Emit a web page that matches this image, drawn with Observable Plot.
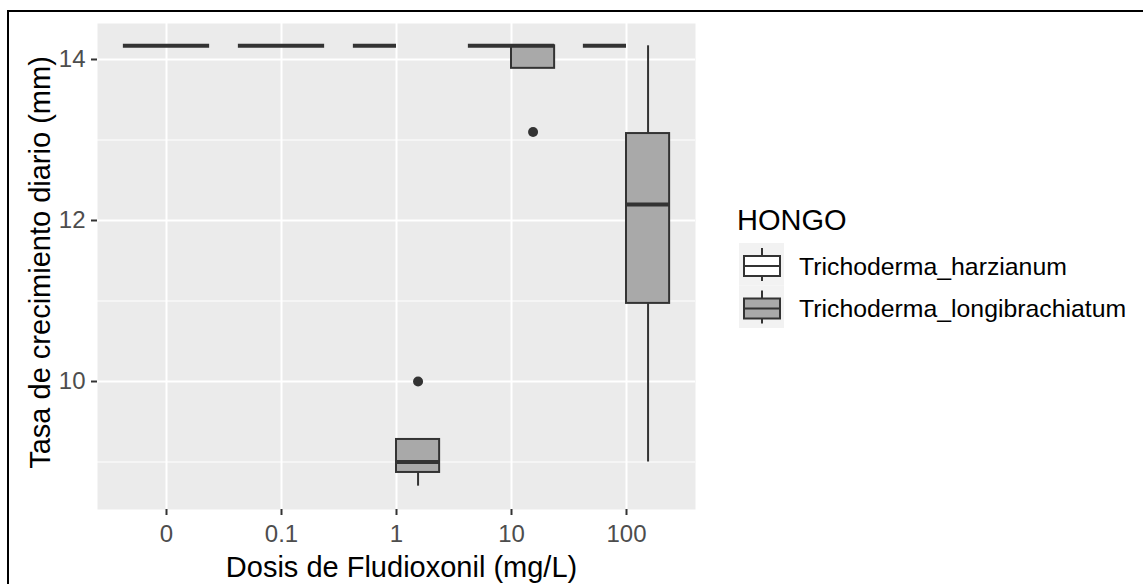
<!DOCTYPE html>
<html><head><meta charset="utf-8">
<script src="https://cdn.jsdelivr.net/npm/d3@7"></script>
<script src="https://cdn.jsdelivr.net/npm/@observablehq/plot@0.6"></script>
<style>
body{margin:0;background:#fff;}
#wrap{position:relative;width:1143px;height:584px;overflow:hidden;font-family:"Liberation Sans",Arial,sans-serif;}
#border{position:absolute;left:7px;top:10px;width:1300px;height:700px;border-top:2px solid #000;border-left:2px solid #000;pointer-events:none;z-index:2;}
#legend{position:absolute;left:0;top:0;}
#wrap svg g[aria-label="x-axis tick label"], #wrap svg g[aria-label="y-axis tick label"]{fill:#4D4D4D;font-size:24px;}
</style></head><body><div id="wrap"><div id="border"></div></div>
<script>
// ---- data ----
const doses = ["0", "0.1", "1", "10", "100"];
const fungi = ["Trichoderma_harzianum", "Trichoderma_longibrachiatum"];
const fungusFill = ["#FFFFFF", "#A9A9A9"];
const legendTitle = "HONGO";
const xTitle = "Dosis de Fludioxonil (mg/L)";
const yTitle = "Tasa de crecimiento diario (mm)";
const yTicks = [10, 12, 14];
const yMinor = [9, 11, 13];

const boxDose   = ["0", "0.1", "1", "10", "100", "0", "0.1", "1", "10", "100"];
const boxFungus = ["Trichoderma_harzianum", "Trichoderma_harzianum", "Trichoderma_harzianum", "Trichoderma_harzianum", "Trichoderma_harzianum",
                   "Trichoderma_longibrachiatum", "Trichoderma_longibrachiatum", "Trichoderma_longibrachiatum", "Trichoderma_longibrachiatum", "Trichoderma_longibrachiatum"];
const whiskerLow  = [14.17, 14.17, 14.17, 14.17, 14.17, 14.17, 14.17, 8.70, 13.89, 9.00];
const q1          = [14.17, 14.17, 14.17, 14.17, 14.17, 14.17, 14.17, 8.87, 13.89, 10.97];
const median      = [14.17, 14.17, 14.17, 14.17, 14.17, 14.17, 14.17, 9.00, 14.17, 12.20];
const q3          = [14.17, 14.17, 14.17, 14.17, 14.17, 14.17, 14.17, 9.28, 14.17, 13.08];
const whiskerHigh = [14.17, 14.17, 14.17, 14.17, 14.17, 14.17, 14.17, 9.28, 14.17, 14.17];

const outlierDose   = ["1", "10"];
const outlierFungus = ["Trichoderma_longibrachiatum", "Trichoderma_longibrachiatum"];
const outlierValue  = [10.0, 13.1];

// ---- layout helpers (dodge) ----
const dodgeWidth = 0.75;
const share = dodgeWidth / fungi.length;
const leftOf = (dose, fungus) => doses.indexOf(dose) - dodgeWidth / 2 + fungi.indexOf(fungus) * share;

const boxes = boxDose.map((d, i) => {
  const l = leftOf(d, boxFungus[i]);
  return {dose: d, fungus: boxFungus[i], left: l, right: l + share, cx: l + share / 2,
          lo: whiskerLow[i], q1: q1[i], med: median[i], q3: q3[i], hi: whiskerHigh[i]};
});
const outliers = outlierDose.map((d, i) => ({cx: leftOf(d, outlierFungus[i]) + share / 2, v: outlierValue[i], fungus: outlierFungus[i]}));
const xIdx = d3.range(doses.length);

const ink = "#333333";
const chart = Plot.plot({
  width: 1143, height: 584,
  marginLeft: 97, marginRight: 448, marginTop: 23, marginBottom: 75,
  style: {fontFamily: '"Liberation Sans", Arial, sans-serif', fontSize: "24px", background: "transparent"},
  x: {domain: [-0.6, doses.length - 0.4], axis: null},
  y: {domain: [8.41, 14.447], axis: null},
  color: {domain: fungi, range: fungusFill},
  marks: [
    Plot.frame({fill: "#EBEBEB"}),
    Plot.ruleY(yMinor, {stroke: "#fff", strokeWidth: 1}),
    Plot.ruleY(yTicks, {stroke: "#fff", strokeWidth: 2}),
    Plot.ruleX(xIdx, {stroke: "#fff", strokeWidth: 2}),
    Plot.ruleX(boxes, {x: "cx", y1: "q3", y2: "hi", stroke: ink, strokeWidth: 2}),
    Plot.ruleX(boxes, {x: "cx", y1: "lo", y2: "q1", stroke: ink, strokeWidth: 2}),
    Plot.rect(boxes, {x1: "left", x2: "right", y1: "q1", y2: "q3", fill: "fungus", stroke: ink, strokeWidth: 2}),
    Plot.ruleY(boxes, {y: "med", x1: "left", x2: "right", stroke: ink, strokeWidth: 4}),
    Plot.dot(outliers, {x: "cx", y: "v", r: 5, fill: ink, stroke: null}),
    Plot.axisX(xIdx, {tickFormat: i => doses[i], tickSize: 6, tickPadding: 9, label: null, stroke: ink, strokeWidth: 2}),
    Plot.axisY(yTicks, {tickFormat: d => String(d), tickSize: 6, tickPadding: 6, label: null, stroke: ink, strokeWidth: 2}),
    Plot.text([xTitle], {frameAnchor: "bottom", lineAnchor: "bottom", textAnchor: "middle", dy: 67, dx: 5, fontSize: 29, fill: "#000"}),
    Plot.text([yTitle], {frameAnchor: "left", textAnchor: "middle", rotate: -90, dx: -57, dy: -4, fontSize: 29, fill: "#000"})
  ]
});
document.getElementById("wrap").appendChild(chart);

// ---- legend ----
const lg = d3.select("#wrap").append("svg").attr("id", "legend")
  .attr("width", 1143).attr("height", 584)
  .style("font-family", '"Liberation Sans", Arial, sans-serif');
lg.append("text").attr("x", 737).attr("y", 230).attr("font-size", 29).attr("fill", "#000").text(legendTitle);
fungi.forEach((f, i) => {
  const top = 243 + i * 42.5;
  const g = lg.append("g");
  g.append("rect").attr("x", 739).attr("y", top).attr("width", 45).attr("height", 42.5).attr("fill", "#F2F2F2");
  g.append("line").attr("x1", 762).attr("x2", 762).attr("y1", top + 5).attr("y2", top + 38).attr("stroke", ink).attr("stroke-width", 2);
  g.append("rect").attr("x", 744).attr("y", top + 13).attr("width", 36).attr("height", 20)
    .attr("fill", fungusFill[i]).attr("stroke", ink).attr("stroke-width", 2);
  g.append("line").attr("x1", 744).attr("x2", 780).attr("y1", top + 23).attr("y2", top + 23).attr("stroke", ink).attr("stroke-width", 2);
  g.append("text").attr("x", 799).attr("y", top + 23).attr("dy", "0.35em").attr("font-size", 24.8).attr("fill", "#000").text(f);
});
</script></body></html>
